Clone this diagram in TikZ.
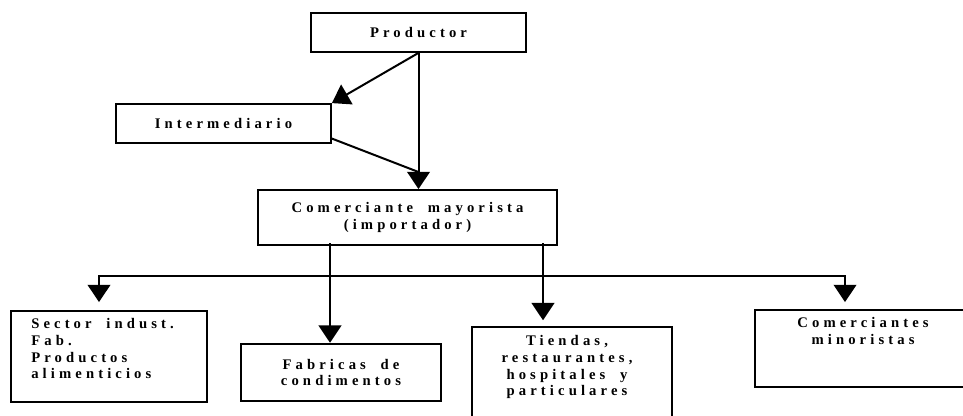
\documentclass[tikz,border=0pt]{standalone}
\usepackage{fontspec}
\setmainfont{Liberation Serif}
\newfontfamily\boxfont[LetterSpace=28,WordSpace=1.9,BoldFont={Liberation Serif Bold}]{Liberation Serif}
\usetikzlibrary{positioning, arrows.meta}

\begin{document}
\begin{tikzpicture}[x=0.75pt, y=-0.75pt,
        box/.style={rectangle, draw, line width=1.6pt, inner sep=0pt, align=center, font=\boxfont\bfseries\fontsize{11}{12.6}\selectfont},
        boxtext/.style={inner sep=0pt, font=\boxfont\bfseries\fontsize{11}{12.6}\selectfont},
        link/.style={line width=1.5pt},
        arr/.style={link, -{Triangle[length=13pt, width=17pt]}}]
      \useasboundingbox (0,0) rectangle (963,415);
      % Upper chain
      \node[box, minimum width=161pt, minimum height=29pt] (prod) at (418.5,32.5) {Productor};
      \node[box, minimum width=161pt, minimum height=29pt] (inter) at (223.5,123.5) {Intermediario};
      \node[box, minimum width=224pt, minimum height=41pt] (mayor) at (407.5,217.5) {Comerciante mayorista\\(importador)};
      
      % Lower boxes
      \node[box, minimum width=147pt, minimum height=68pt] (sector) at (109,356.5) {};
      \node[box, minimum width=150pt, minimum height=43pt] (fab) at (341,372.5) {Fabricas de\\condimentos};
      \node[box, minimum width=150pt, minimum height=89pt] (tiendas) at (572,386) {};
      \node[box, minimum width=165pt, minimum height=58pt] (minor) at (865,348.5) {};
      \node[boxtext, align=left, anchor=north west] (sectortxt) at (31,318) {Sector indust.\\Fab.\\Productos\\alimenticios};
      \node[boxtext, align=center, anchor=north] (tiendastxt) at (567,335) {Tiendas,\\restaurantes,\\hospitales y\\particulares};
      \node[boxtext, align=center, anchor=north] (minortxt) at (863,317) {Comerciantes\\minoristas};
      
      \coordinate (join) at (418.5,172);
      \coordinate (busL) at (99,276);
      \coordinate (busR) at (845,276);
      \coordinate (mL) at (330,243);
      \coordinate (mR) at (543,243);
      
      \draw[arr] (prod.south) -- (prod.south |- mayor.north);
      \draw[arr] (prod.south) -- (inter.north east);
      \draw[link] ([yshift=4pt]inter.south east) -- (join);
      
      % Distribution
      \draw[arr, shorten >=6pt] (busR) -- (busL) -- (busL |- sector.north);
      \draw[arr, shorten >=5pt] (busL) -- (busR) -- (busR |- minor.north);
      \draw[arr] (mL) -- (mL |- fab.north);
      \draw[arr, shorten >=4pt] (mR) -- (mR |- tiendas.north);
    \end{tikzpicture}
\end{document}
